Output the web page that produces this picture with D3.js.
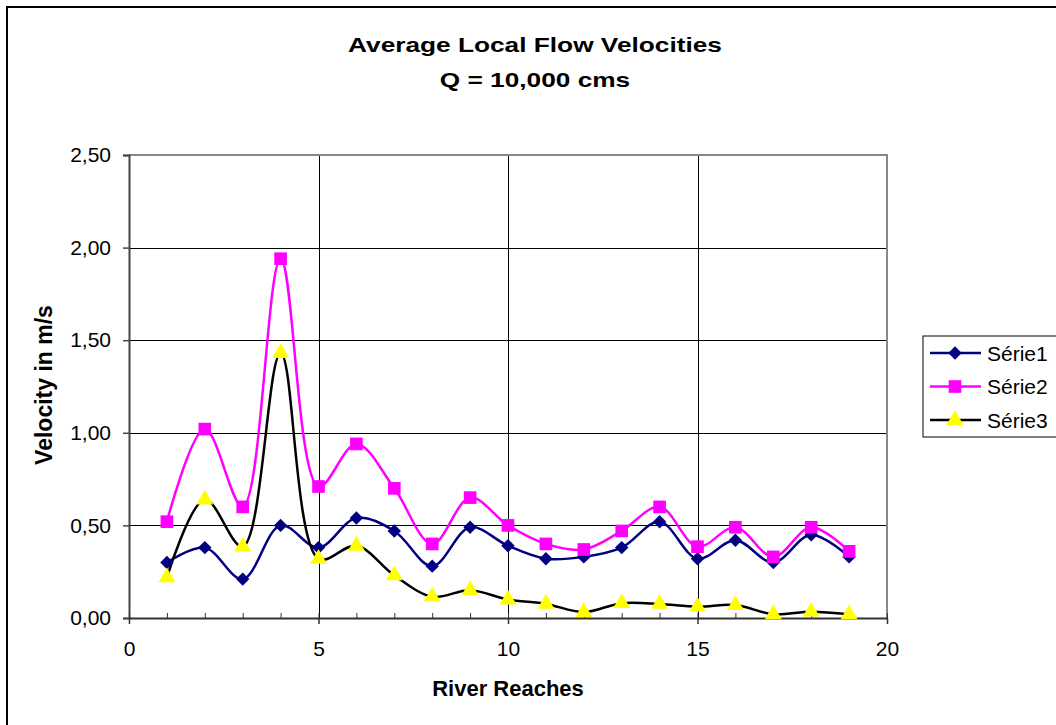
<!DOCTYPE html>
<html>
<head>
<meta charset="utf-8">
<script src="https://cdn.jsdelivr.net/npm/d3@7"></script>
<style>
  body { margin: 0; background: #fff; }
  text { font-family: "Liberation Sans", Arial, sans-serif; }
</style>
</head>
<body>
<div id="chart"></div>
<script>
// reach numbers along the x axis
const reaches = [1, 2, 3, 4, 5, 6, 7, 8, 9, 10, 11, 12, 13, 14, 15, 16, 17, 18, 19];

// velocities
const serie1 = [0.30, 0.38, 0.21, 0.50, 0.38, 0.54, 0.47, 0.28, 0.49, 0.39, 0.32, 0.33, 0.38, 0.52, 0.32, 0.42, 0.30, 0.45, 0.33];
const serie2 = [0.52, 1.02, 0.60, 1.94, 0.71, 0.94, 0.70, 0.40, 0.65, 0.50, 0.40, 0.37, 0.47, 0.60, 0.385, 0.49, 0.33, 0.49, 0.36];
const serie3 = [0.22, 0.64, 0.385, 1.43, 0.32, 0.39, 0.23, 0.115, 0.15, 0.10, 0.076, 0.032, 0.08, 0.076, 0.061, 0.07, 0.02, 0.034, 0.02];

const seriesNames = ['Série1', 'Série2', 'Série3'];
const xTicks = [0, 5, 10, 15, 20];
const yTicks = [0, 0.5, 1.0, 1.5, 2.0, 2.5];

const width = 1056;
const height = 725;
const plot = { left: 129, right: 887, top: 155, bottom: 618 };

const svg = d3.select('#chart')
  .append('svg')
  .attr('width', width)
  .attr('height', height);

// outer chart border (right/bottom fall outside the window)
svg.append('rect')
  .attr('x', 7).attr('y', 7)
  .attr('width', 1056).attr('height', 730)
  .attr('fill', 'none')
  .attr('stroke', '#000')
  .attr('stroke-width', 2);

const x = d3.scaleLinear().domain([0, 20]).range([plot.left, plot.right]);
const y = d3.scaleLinear().domain([0, 2.5]).range([plot.bottom, plot.top]);

const fmt = d => d3.format('.2f')(d).replace('.', ',');

// grid lines
svg.append('g')
  .selectAll('line')
  .data(yTicks.filter(d => d > 0 && d < 2.5))
  .enter().append('line')
  .attr('x1', plot.left).attr('x2', plot.right)
  .attr('y1', d => Math.round(y(d)) + 0.5).attr('y2', d => Math.round(y(d)) + 0.5)
  .attr('stroke', '#000').attr('stroke-width', 1);

svg.append('g')
  .selectAll('line')
  .data(xTicks.filter(d => d > 0 && d < 20))
  .enter().append('line')
  .attr('x1', d => Math.round(x(d)) + 0.5).attr('x2', d => Math.round(x(d)) + 0.5)
  .attr('y1', plot.top).attr('y2', plot.bottom)
  .attr('stroke', '#000').attr('stroke-width', 1);

// plot frame (gray top and right)
svg.append('path')
  .attr('d', `M${plot.left},${plot.top}H${plot.right}V${plot.bottom}`)
  .attr('fill', 'none')
  .attr('stroke', '#888')
  .attr('stroke-width', 2);

// y axis
const yAxis = svg.append('g')
  .attr('transform', `translate(${plot.left},0)`)
  .call(d3.axisLeft(y).tickValues(yTicks).tickFormat(fmt).tickSize(6).tickPadding(12));
yAxis.select('.domain').attr('stroke', '#444').attr('stroke-width', 2);
yAxis.selectAll('.tick line').attr('stroke', '#444').attr('stroke-width', 1.5);
yAxis.selectAll('text').attr('font-size', 21).attr('fill', '#000')
  .attr('font-family', '"Liberation Sans", Arial, sans-serif');

// x axis: minor ticks inside, major ticks outside
const xAxisMinor = svg.append('g')
  .attr('transform', `translate(0,${plot.bottom})`)
  .call(d3.axisTop(x).tickValues(d3.range(0, 21)).tickFormat('').tickSize(5).tickSizeOuter(0));
xAxisMinor.select('.domain').remove();
xAxisMinor.selectAll('.tick line').attr('stroke', '#333');

const xAxis = svg.append('g')
  .attr('transform', `translate(0,${plot.bottom})`)
  .call(d3.axisBottom(x).tickValues(xTicks).tickSize(6).tickSizeOuter(0).tickPadding(17));
xAxis.select('.domain').attr('stroke', '#333').attr('stroke-width', 2);
xAxis.selectAll('.tick line').attr('stroke', '#333').attr('stroke-width', 1.5);
xAxis.selectAll('text').attr('font-size', 21).attr('fill', '#000')
  .attr('font-family', '"Liberation Sans", Arial, sans-serif');

// series
const series = [
  { name: seriesNames[0], values: serie1, line: '#000080', fill: '#000080', shape: 'diamond' },
  { name: seriesNames[1], values: serie2, line: '#ff00ff', fill: '#ff00ff', shape: 'square' },
  { name: seriesNames[2], values: serie3, line: '#000000', fill: '#ffff00', shape: 'triangle' }
];

const symbolOf = {
  diamond: d3.symbol().type(d3.symbolDiamond2).size(115),
  square: d3.symbol().type(d3.symbolSquare).size(160),
  triangle: d3.symbol().type(d3.symbolTriangle).size(125)
};

const line = d3.line()
  .x((d, i) => x(reaches[i]))
  .y(d => y(d))
  .curve(d3.curveCatmullRom.alpha(0.5));

series.forEach(s => {
  svg.append('path')
    .datum(s.values)
    .attr('d', line)
    .attr('fill', 'none')
    .attr('stroke', s.line)
    .attr('stroke-width', 2.5);
});

series.forEach(s => {
  svg.append('g')
    .selectAll('path')
    .data(s.values)
    .enter().append('path')
    .attr('d', symbolOf[s.shape])
    .attr('transform', (d, i) => `translate(${x(reaches[i])},${y(d)})`)
    .attr('fill', s.fill);
});

// titles: centred on the whole chart area, stretched sideways like the source
const titleX = 535;
[['Average Local Flow Velocities', 52], ['Q = 10,000 cms', 87]].forEach(([t, ty]) => {
  svg.append('text')
    .attr('transform', `translate(${titleX},${ty}) scale(1.25,1)`)
    .attr('text-anchor', 'middle')
    .attr('font-size', 21).attr('font-weight', 'bold')
    .text(t);
});

const cx = (plot.left + plot.right) / 2;
svg.append('text')
  .attr('x', cx).attr('y', 696)
  .attr('text-anchor', 'middle')
  .attr('font-size', 22).attr('font-weight', 'bold')
  .text('River Reaches');

svg.append('text')
  .attr('transform', `translate(52,385) rotate(-90)`)
  .attr('text-anchor', 'middle')
  .attr('font-size', 23).attr('font-weight', 'bold')
  .text('Velocity in m/s');

// legend
const legend = svg.append('g').attr('transform', 'translate(923,336)');
legend.append('rect')
  .attr('x', 0).attr('y', 0)
  .attr('width', 140).attr('height', 101)
  .attr('fill', '#fff').attr('stroke', '#000').attr('stroke-width', 1);

series.forEach((s, i) => {
  const row = legend.append('g').attr('transform', `translate(0,${17 + i * 33.5})`);
  row.append('line')
    .attr('x1', 7).attr('x2', 58)
    .attr('stroke', s.line).attr('stroke-width', 2.5);
  row.append('path')
    .attr('d', symbolOf[s.shape])
    .attr('transform', 'translate(32,0)')
    .attr('fill', s.fill);
  row.append('text')
    .attr('x', 64).attr('y', 7.5)
    .attr('font-size', 21)
    .text(s.name);
});
</script>
</body>
</html>
